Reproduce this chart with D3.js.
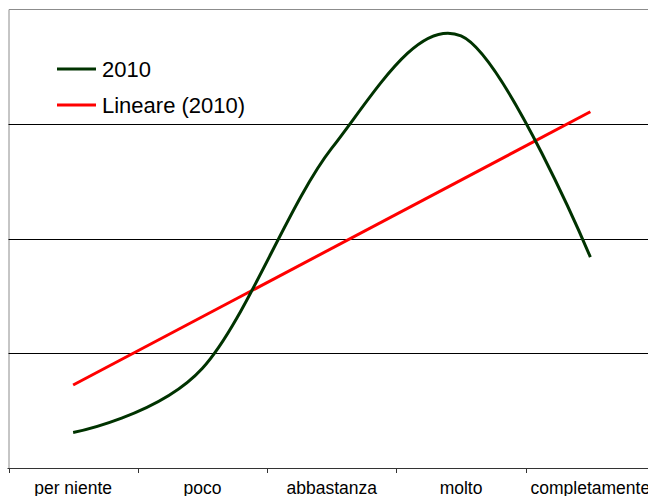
<!DOCTYPE html>
<html><head><meta charset="utf-8">
<script src="https://cdn.jsdelivr.net/npm/d3@7"></script>
<style>body{margin:0;background:#fff}svg{display:block}</style>
</head><body>
<script>
const categories = ["per niente", "poco", "abbastanza", "molto", "completamente"];
const values2010 = [3.1, 8.7, 27.9, 37.7, 18.4];
const gridValues = [10, 20, 30];
const seriesNames = ["2010", "Lineare (2010)"];

(function () {
const W = 648, H = 496;
const pL = 8.5, pR = 655, pT = 9.5, pB = 468;
const svg = d3.select("body").append("svg").attr("width", W).attr("height", H);

const x = d3.scaleBand().domain(categories).range([pL, pR]).padding(0);
const y = d3.scaleLinear().domain([0, 40]).range([pB, pT]);
const cx = d => x(d) + x.bandwidth() / 2;

// plot border (top + left)
svg.append("path").attr("d", `M${pL+0.5},${pB}V${pT}H${W}`)
  .attr("fill", "none").attr("stroke", "#8c8c8c").attr("stroke-width", 1);

// gridlines
svg.selectAll("line.grid").data(gridValues).enter().append("line")
  .attr("x1", pL).attr("x2", W)
  .attr("y1", d => Math.round(y(d)) + 0.5).attr("y2", d => Math.round(y(d)) + 0.5)
  .attr("stroke", "#000").attr("stroke-width", 1);

// x axis
const xb = svg.append("g");
xb.append("line").attr("x1", pL - 1).attr("x2", W).attr("y1", pB + 0.5).attr("y2", pB + 0.5)
  .attr("stroke", "#333").attr("stroke-width", 1.2);
const tickPos = categories.map(c => x(c)).concat([x(categories[categories.length-1]) + x.bandwidth()]);
xb.selectAll("line.tick").data(tickPos).enter().append("line")
  .attr("x1", d => Math.round(d) + 0.5).attr("x2", d => Math.round(d) + 0.5)
  .attr("y1", pB).attr("y2", pB + 5).attr("stroke", "#333");
xb.selectAll("text").data(categories).enter().append("text")
  .attr("x", d => cx(d)).attr("y", 494).attr("text-anchor", "middle")
  .attr("font-family", "Liberation Sans, Arial, sans-serif").attr("font-size", 17.5)
  .attr("fill", "#000").text(d => d);

// linear trend (least squares)
const xi = values2010.map((v, i) => i + 1);
const mx = d3.mean(xi), my = d3.mean(values2010);
const slope = d3.sum(xi.map((xv, i) => (xv - mx) * (values2010[i] - my))) / d3.sum(xi.map(xv => (xv - mx) ** 2));
const icpt = my - slope * mx;
const trend = [1, categories.length].map(i => ({c: categories[i-1], v: icpt + slope * i}));

svg.append("path").datum(trend)
  .attr("d", d3.line().x(d => cx(d.c)).y(d => y(d.v)))
  .attr("fill", "none").attr("stroke", "#ff0000").attr("stroke-width", 3);

svg.append("path").datum(categories.map((c, i) => ({c, v: values2010[i]})))
  .attr("d", d3.line().x(d => cx(d.c)).y(d => y(d.v)).curve(d3.curveCardinal.tension(0)))
  .attr("fill", "none").attr("stroke", "#003300").attr("stroke-width", 3).attr("stroke-linejoin", "round");

// legend
const lg = svg.append("g");
const legColors = ["#003300", "#ff0000"];
seriesNames.forEach((n, i) => {
  const yy = 69 + i * 36;
  lg.append("line").attr("x1", 57).attr("x2", 96).attr("y1", yy).attr("y2", yy)
    .attr("stroke", legColors[i]).attr("stroke-width", 3);
  lg.append("text").attr("x", 102).attr("y", yy + 8)
    .attr("font-family", "Liberation Sans, Arial, sans-serif").attr("font-size", 22)
    .attr("fill", "#000").text(n);
});
})();
</script>
</body></html>
